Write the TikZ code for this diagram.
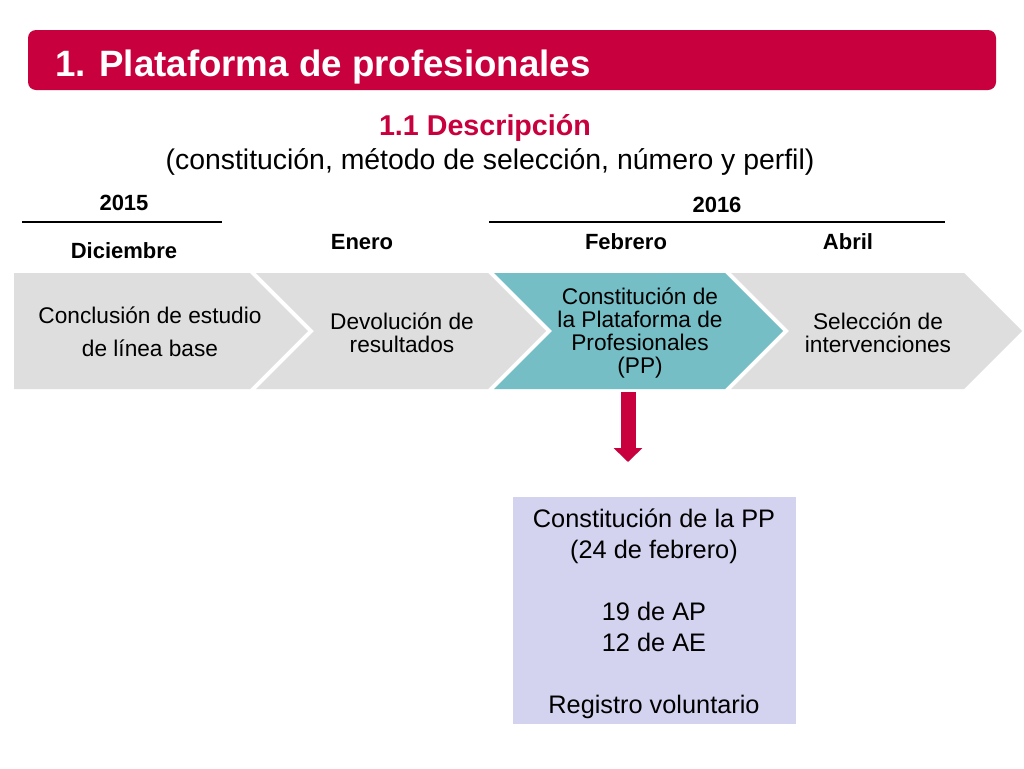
\documentclass[tikz,border=0pt]{standalone}
\usepackage{fontspec}
\setmainfont{Liberation Sans}
\usetikzlibrary{arrows.meta}
\definecolor{crimson}{RGB}{200,0,62}
\definecolor{chevgray}{RGB}{222,222,222}
\definecolor{chevteal}{RGB}{117,190,197}
\definecolor{lavender}{RGB}{211,211,240}
\tikzset{
  chev/.style={fill=chevgray, draw=none},
  chevhl/.style={fill=chevteal, draw=none},
  chevtext/.style={align=center, font=\fontsize{17}{17.25}\selectfont, text=black, inner sep=0pt},
  datelabel/.style={font=\bfseries\fontsize{16.5}{18}\selectfont, anchor=base, inner sep=0pt},
  yearline/.style={draw=black, line width=0.8pt},
}
\begin{document}
\begin{tikzpicture}[x=0.75pt,y=-0.75pt]
\useasboundingbox (0,0) rectangle (1024,768);
\fill[white] (0,0) rectangle (1024,768);
% title bar
\fill[crimson, rounded corners=6pt] (28,30) rectangle (996,90);
\node[anchor=base west, inner sep=0pt, text=white, font=\bfseries\fontsize{27.5}{30}\selectfont] (title) at (55,76) {1. Plataforma de profesionales};
% subtitle
\node[anchor=base, inner sep=0pt, text=crimson, font=\bfseries\fontsize{21.5}{24}\selectfont] (sub1) at (485,135) {1.1 Descripción};
\node[anchor=base, inner sep=0pt, text=black, font=\fontsize{21.3}{24}\selectfont] (sub2) at (490,169) {(constitución, método de selección, número y perfil)};
% years and months
\node[datelabel] (y2015) at (124,210) {2015};
\draw[yearline] (22,222) -- (222,222);
\node[datelabel] (dic) at (124,258) {Diciembre};
\node[datelabel] (y2016) at (717,212) {2016};
\draw[yearline] (489,222) -- (945,222);
\node[datelabel] (ene) at (362,249) {Enero};
\node[datelabel] (feb) at (626,249) {Febrero};
\node[datelabel] (abr) at (848,249) {Abril};
% chevrons
\path[chev] (14,273) -- (250,273) -- (308,331) -- (250,389) -- (14,389) -- cycle;
\path[chev] (256,273) -- (488,273) -- (546,331) -- (488,389) -- (256,389) -- (314,331) -- cycle;
\path[chevhl] (494,273) -- (725,273) -- (783,331) -- (725,389) -- (494,389) -- (552,331) -- cycle;
\path[chev] (731,273) -- (964,273) -- (1022,331) -- (964,389) -- (731,389) -- (789,331) -- cycle;
\node[chevtext, font=\fontsize{17}{24.75}\selectfont] (c1) at (150,332) {Conclusión de estudio\\de línea base};
\node[chevtext] (c2) at (402,333) {Devolución de\\resultados};
\node[chevtext] (c3) at (640,333) {Constitución de\\la Plataforma de\\Profesionales\\(PP)};
\node[chevtext] (c4) at (878,333) {Selección de\\intervenciones};
% arrow
\coordinate (atop) at (628,392);
\coordinate (atip) at (628,462);
\draw[crimson, line width=11.25pt, -{Triangle[width=21pt,length=10.5pt]}] (atop) -- (atip);
% result box
\node[fill=lavender, minimum width=283*0.75pt, minimum height=227*0.75pt, inner sep=0pt] (box) at (654,610) {};
\node[align=center, inner sep=0pt, font=\fontsize{19}{23.25}\selectfont] (boxtext) at (654,614) {Constitución de la PP\\(24 de febrero)\\[23.25pt]19 de AP\\12 de AE\\[23.25pt]Registro voluntario};
\end{tikzpicture}
\end{document}
